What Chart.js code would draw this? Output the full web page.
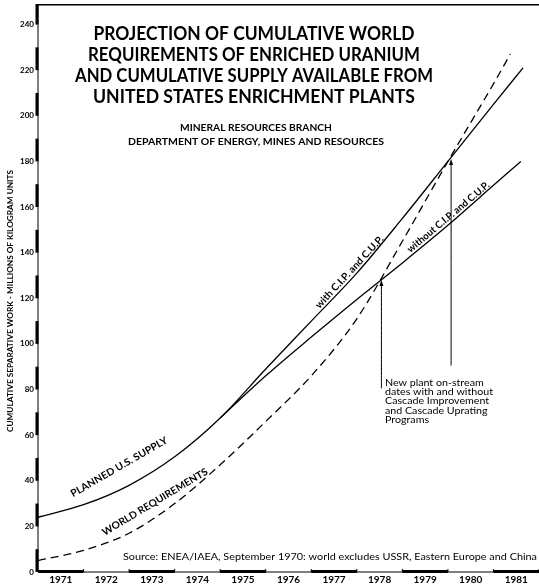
<!DOCTYPE html>
<html>
<head>
<meta charset="utf-8">
<script src="https://cdn.jsdelivr.net/npm/chart.js@4.4.0/dist/chart.umd.min.js"></script>
<style>
  html, body { margin: 0; padding: 0; background: #fff; }
  #wrap { width: 539px; height: 586px; }
</style>
</head>
<body>
<div id="wrap"><canvas id="chart" width="539" height="586"></canvas></div>
<script>
// cumulative separative work, millions of kg units
const yearLabels = ['1971', '1972', '1973', '1974', '1975', '1976', '1977', '1978', '1979', '1980', '1981'];
const yTicks = [0, 20, 40, 60, 80, 100, 120, 140, 160, 180, 200, 220, 240];

// world requirements (dashed)
const reqYears = [1971, 1972, 1973, 1974, 1975, 1976, 1977, 1978, 1979, 1980, 1981, 1981.37];
const reqValues = [5, 9.5, 17, 30, 47, 66, 86, 111, 145, 180, 214, 227];

// planned U.S. supply, with C.I.P. and C.U.P.
const withYears = [1971, 1972, 1973, 1974, 1975, 1976, 1977, 1978, 1979, 1980, 1981, 1981.65];
const withValues = [24, 29.5, 38, 50.5, 67.5, 89, 110, 131, 155, 180, 205, 221];

// without C.I.P. and C.U.P. (branches off around 1975)
const withoutYears = [1975, 1976, 1977, 1978, 1979, 1980, 1981, 1981.6];
const withoutValues = [67.5, 86, 103, 119.5, 135.5, 152, 169.5, 180];

// new plant on-stream markers
const streamYears = [1978.54, 1980.07];
const streamTop = [128, 181];
const streamBottom = [80.5, 90.5];

const FONT = 'Lato, "DejaVu Sans", sans-serif';

const pts = (xs, ys) => xs.map((x, i) => ({ x: x, y: ys[i] }));

// curve labels: [text, year, value, angle deg, length px]
const curveLabels = [
  ['PLANNED U.S. SUPPLY', 1972.78, 46, -30, 110],
  ['WORLD REQUIREMENTS', 1973.57, 30.7, -31, 121],
  ['with C.I.P. and C.U.P.', 1977.84, 131.5, -47, 95],
  ['without C.I.P. and C.U.P.', 1980.01, 155.6, -40, 104]
];

const noteLines = ['New plant on-stream', 'dates with and without', 'Cascade Improvement', 'and Cascade Uprating', 'Programs'];

function fitText(ctx, text, cx, cy, width, font, angle) {
  ctx.save();
  ctx.font = font;
  const w = ctx.measureText(text).width;
  ctx.translate(cx, cy);
  if (angle) ctx.rotate(angle * Math.PI / 180);
  ctx.scale(width / w, 1);
  ctx.textAlign = 'center';
  ctx.textBaseline = 'middle';
  ctx.fillText(text, 0, 0);
  ctx.restore();
}

const paper = {
  id: 'paper',
  afterDraw(chart) {
    const ctx = chart.ctx;
    const a = chart.chartArea;
    const xs = chart.scales.x, ys = chart.scales.y;
    ctx.save();
    ctx.fillStyle = '#000';
    ctx.strokeStyle = '#000';

    // frame top + left axis line
    ctx.fillRect(a.left, a.top, a.right - a.left, 1.5);
    ctx.fillRect(a.left - 0.5, a.top, 1, a.bottom - a.top);
    // ruler bars on y axis
    yTicks.forEach(v => {
      const y0 = ys.getPixelForValue(v);
      const y1 = Math.max(a.top, ys.getPixelForValue(v + 10));
      ctx.fillRect(a.left - 2.5, y1, 3, y0 - y1);
    });
    // x axis: thick segments on odd years
    ctx.fillRect(a.left, a.bottom - 0.5, a.right - a.left, 1);
    yearLabels.forEach((lab, i) => {
      const x0 = xs.getPixelForValue(1971 + i), x1 = xs.getPixelForValue(1972 + i);
      if (i % 2 === 0) ctx.fillRect(x0, a.bottom - 2, x1 - x0, 3);
      ctx.fillRect(x1 - 0.5, a.bottom - 3, 1, 3);
    });

    // tick labels
    ctx.font = 'bold 8px ' + FONT;
    ctx.textAlign = 'right';
    ctx.textBaseline = 'middle';
    yTicks.forEach(v => ctx.fillText(String(v), a.left - 4, ys.getPixelForValue(v)));
    ctx.font = 'bold 10px ' + FONT;
    ctx.textAlign = 'center';
    yearLabels.forEach((lab, i) => ctx.fillText(lab, xs.getPixelForValue(1971.5 + i), 580));

    // axis title
    fitText(ctx, 'CUMULATIVE SEPARATIVE WORK - MILLIONS OF KILOGRAM UNITS', 11, 301, 262, 'bold 7.5px ' + FONT, -90);

    // title block
    const title = [
      ['PROJECTION OF CUMULATIVE WORLD', 34, 321],
      ['REQUIREMENTS OF ENRICHED URANIUM', 55, 332],
      ['AND CUMULATIVE SUPPLY AVAILABLE FROM', 76, 358],
      ['UNITED STATES ENRICHMENT PLANTS', 97, 322]
    ];
    title.forEach(t => fitText(ctx, t[0], 254, t[1], t[2], 'bold 18px ' + FONT));
    fitText(ctx, 'MINERAL RESOURCES BRANCH', 256, 128, 152, 'bold 8.5px ' + FONT);
    fitText(ctx, 'DEPARTMENT OF ENERGY, MINES AND RESOURCES', 256, 142, 256, 'bold 8.5px ' + FONT);

    // curve labels
    curveLabels.forEach(l => fitText(ctx, l[0], xs.getPixelForValue(l[1]), ys.getPixelForValue(l[2]), l[4], 'bold 10px ' + FONT, l[3]));

    // arrowheads on the on-stream markers
    streamYears.forEach((yr, i) => {
      const x = xs.getPixelForValue(yr), y = ys.getPixelForValue(streamTop[i]);
      ctx.beginPath();
      ctx.moveTo(x, y);
      ctx.lineTo(x - 2, y + 6);
      ctx.lineTo(x + 2, y + 6);
      ctx.closePath();
      ctx.fill();
    });

    // note block
    ctx.font = '9.5px ' + FONT;
    const sx = 108 / ctx.measureText(noteLines[1]).width;
    noteLines.forEach((s, i) => {
      ctx.save();
      ctx.translate(385, 383 + i * 9.2);
      ctx.scale(sx, 1);
      ctx.textAlign = 'left';
      ctx.textBaseline = 'middle';
      ctx.fillText(s, 0, 0);
      ctx.restore();
    });

    // source line
    ctx.font = '10px ' + FONT;
    const src = 'Source: ENEA/IAEA, September 1970: world excludes USSR, Eastern Europe and China';
    const sw = ctx.measureText(src).width;
    ctx.save();
    ctx.translate(123, 557);
    ctx.scale(414 / sw, 1);
    ctx.textAlign = 'left';
    ctx.textBaseline = 'middle';
    ctx.fillText(src, 0, 0);
    ctx.restore();

    ctx.restore();
  }
};

const lineStyle = { borderColor: '#000', pointRadius: 0, fill: false, cubicInterpolationMode: 'monotone' };

const datasets = [
  Object.assign({ label: 'World requirements', data: pts(reqYears, reqValues), borderWidth: 1.3, borderDash: [8, 5] }, lineStyle),
  Object.assign({ label: 'with C.I.P. and C.U.P.', data: pts(withYears, withValues), borderWidth: 1.3 }, lineStyle),
  Object.assign({ label: 'without C.I.P. and C.U.P.', data: pts(withoutYears, withoutValues), borderWidth: 1.3 }, lineStyle)
];
streamYears.forEach((yr, i) => {
  datasets.push(Object.assign({
    label: 'on-stream ' + (i + 1),
    data: [{ x: yr, y: streamBottom[i] }, { x: yr, y: streamTop[i] - 1 }],
    borderWidth: 1
  }, lineStyle));
});

new Chart(document.getElementById('chart'), {
  type: 'line',
  data: { datasets },
  options: {
    responsive: false,
    animation: false,
    layout: { padding: { left: 38, right: 0, top: 4, bottom: 14 } },
    plugins: { legend: { display: false }, tooltip: { enabled: false } },
    scales: {
      x: { type: 'linear', min: 1971, max: 1982, display: false },
      y: { min: 0, max: 249, display: false }
    }
  },
  plugins: [paper]
});
</script>
</body>
</html>
